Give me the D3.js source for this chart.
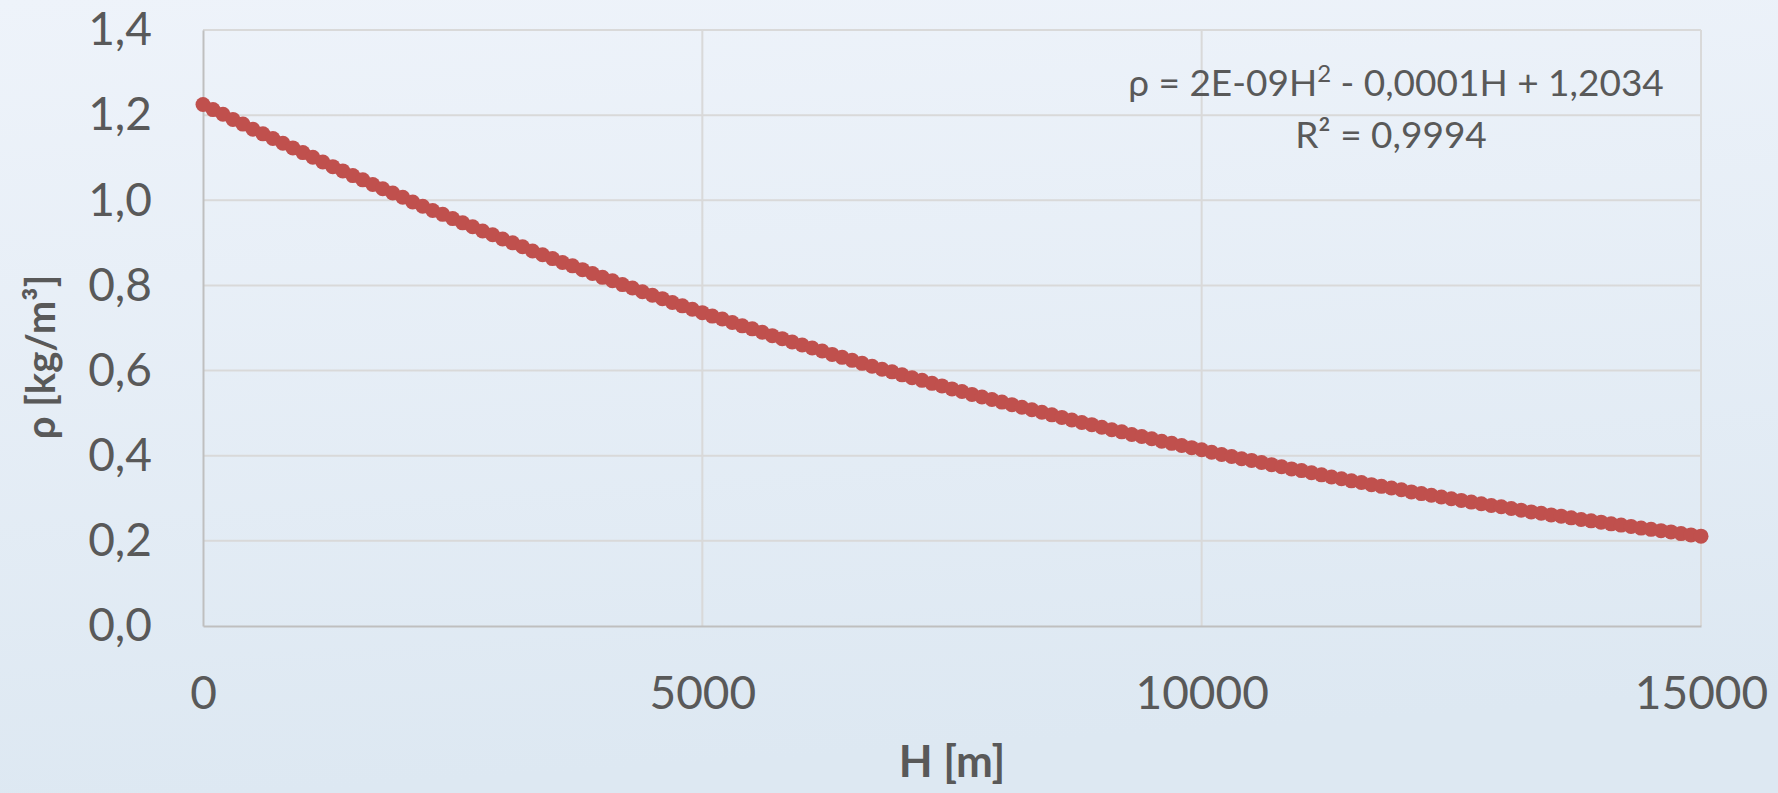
<!DOCTYPE html>
<html>
<head>
<meta charset="utf-8">
<script src="https://cdn.jsdelivr.net/npm/d3@7"></script>
<style>
  html, body { margin: 0; padding: 0; background: #e6eef7; }
  svg { display: block; }
</style>
</head>
<body>
<svg id="chart" width="1778" height="793"></svg>
<script>
// ---- data ----
const heights = [
  0,100,200,300,400,500,600,700,800,900,
  1000,1100,1200,1300,1400,1500,1600,1700,1800,1900,
  2000,2100,2200,2300,2400,2500,2600,2700,2800,2900,
  3000,3100,3200,3300,3400,3500,3600,3700,3800,3900,
  4000,4100,4200,4300,4400,4500,4600,4700,4800,4900,
  5000,5100,5200,5300,5400,5500,5600,5700,5800,5900,
  6000,6100,6200,6300,6400,6500,6600,6700,6800,6900,
  7000,7100,7200,7300,7400,7500,7600,7700,7800,7900,
  8000,8100,8200,8300,8400,8500,8600,8700,8800,8900,
  9000,9100,9200,9300,9400,9500,9600,9700,9800,9900,
  10000,10100,10200,10300,10400,10500,10600,10700,10800,10900,
  11000,11100,11200,11300,11400,11500,11600,11700,11800,11900,
  12000,12100,12200,12300,12400,12500,12600,12700,12800,12900,
  13000,13100,13200,13300,13400,13500,13600,13700,13800,13900,
  14000,14100,14200,14300,14400,14500,14600,14700,14800,14900,
  15000
];
const density = [
  1.225,1.213,1.202,1.190,1.179,1.167,1.156,1.145,1.134,1.123,
  1.112,1.101,1.090,1.079,1.069,1.058,1.048,1.037,1.027,1.017,
  1.007,0.996,0.986,0.976,0.967,0.957,0.947,0.938,0.928,0.919,
  0.909,0.900,0.891,0.881,0.872,0.863,0.854,0.846,0.837,0.828,
  0.819,0.811,0.802,0.794,0.785,0.777,0.769,0.760,0.752,0.744,
  0.736,0.728,0.721,0.713,0.705,0.698,0.690,0.682,0.675,0.667,
  0.660,0.653,0.646,0.638,0.631,0.624,0.617,0.610,0.603,0.597,
  0.590,0.583,0.577,0.570,0.564,0.557,0.551,0.544,0.538,0.532,
  0.526,0.520,0.514,0.508,0.502,0.496,0.490,0.484,0.478,0.473,
  0.467,0.461,0.456,0.450,0.445,0.440,0.434,0.429,0.424,0.419,
  0.414,0.408,0.403,0.398,0.393,0.389,0.384,0.379,0.374,0.369,
  0.365,0.360,0.355,0.350,0.346,0.341,0.337,0.332,0.328,0.324,
  0.320,0.315,0.311,0.307,0.303,0.299,0.295,0.291,0.287,0.283,
  0.280,0.276,0.272,0.268,0.265,0.261,0.258,0.254,0.250,0.247,
  0.244,0.240,0.237,0.234,0.230,0.227,0.224,0.221,0.217,0.214,
  0.211
];
const xTicks = [0, 5000, 10000, 15000];
const yTicks = [0, 0.2, 0.4, 0.6, 0.8, 1.0, 1.2, 1.4];
const xTitle = "H [m]";
const yTitle = "ρ [kg/m³]";
const eqLine1 = ["ρ = 2E-09H", "2", " - 0,0001H + 1,2034"];
const eqLine2 = "R² = 0,9994";

// ---- layout ----
const W = 1778, H = 793;
const margin = { left: 203, right: 77, top: 30, bottom: 167 };
const innerW = W - margin.left - margin.right;
const innerH = H - margin.top - margin.bottom;

const svg = d3.select("#chart");
const defs = svg.append("defs");
const grad = defs.append("linearGradient").attr("id", "bg")
  .attr("x1", "0").attr("y1", "0").attr("x2", "0.15").attr("y2", "1");
grad.append("stop").attr("offset", "0%").attr("stop-color", "#eef3fa");
grad.append("stop").attr("offset", "100%").attr("stop-color", "#dde8f2");
svg.append("rect").attr("width", W).attr("height", H).attr("fill", "url(#bg)");

const x = d3.scaleLinear().domain([0, 15000]).range([margin.left, margin.left + innerW]);
const y = d3.scaleLinear().domain([0, 1.4]).range([margin.top + innerH, margin.top]);

const locale = d3.formatLocale({ decimal: ",", thousands: "", grouping: [3], currency: ["", ""] });
const fmtY = locale.format(".1f");
const fmtX = locale.format("d");

const font = "Lato, 'Open Sans', sans-serif";
const textColor = "#595959";

// grid
const grid = svg.append("g");
grid.selectAll("line.h").data(yTicks.filter(d => d > 0)).join("line")
  .attr("x1", margin.left).attr("x2", margin.left + innerW)
  .attr("y1", d => y(d)).attr("y2", d => y(d))
  .attr("stroke", "#d9d9d9").attr("stroke-width", 2);
grid.selectAll("line.v").data(xTicks.filter(d => d > 0)).join("line")
  .attr("y1", margin.top).attr("y2", margin.top + innerH)
  .attr("x1", d => x(d)).attr("x2", d => x(d))
  .attr("stroke", "#d9d9d9").attr("stroke-width", 2);

// axes
const yAxis = d3.axisLeft(y).tickValues(yTicks).tickFormat(fmtY).tickSize(0).tickPadding(51);
const gy = svg.append("g").attr("transform", `translate(${margin.left},0)`).call(yAxis);
gy.select(".domain").attr("stroke", "#bfbfbf").attr("stroke-width", 2);
gy.selectAll("text").attr("font-family", font).attr("font-size", 46).attr("fill", textColor);

const xAxis = d3.axisBottom(x).tickValues(xTicks).tickFormat(fmtX).tickSize(0).tickPadding(50);
const gx = svg.append("g").attr("transform", `translate(0,${margin.top + innerH})`).call(xAxis);
gx.select(".domain").attr("stroke", "#bfbfbf").attr("stroke-width", 2);
gx.selectAll("text").attr("font-family", font).attr("font-size", 46).attr("fill", textColor);

// points
const pts = heights.map((h, i) => ({ h, r: density[i] }));
svg.append("g").selectAll("circle").data(pts).join("circle")
  .attr("cx", d => x(d.h)).attr("cy", d => y(d.r)).attr("r", 7.5)
  .attr("fill", "#c0504d");

// axis titles
svg.append("text").attr("x", margin.left + innerW / 2).attr("y", 777)
  .attr("text-anchor", "middle").attr("font-family", font).attr("font-weight", "bold")
  .attr("font-size", 44).attr("fill", textColor).text(xTitle);
svg.append("text").attr("transform", `translate(55,357) rotate(-90)`)
  .attr("text-anchor", "middle").attr("font-family", font).attr("font-weight", "bold")
  .attr("font-size", 40).attr("fill", textColor).text(yTitle);

// trendline equation
const eq = svg.append("text").attr("x", 1396).attr("y", 96).attr("text-anchor", "middle")
  .attr("font-family", font).attr("font-size", 37).attr("fill", textColor);
eq.append("tspan").text(eqLine1[0]);
eq.append("tspan").attr("font-size", 24).attr("dy", -14).text(eqLine1[1]);
eq.append("tspan").attr("dy", 14).text(eqLine1[2]);
svg.append("text").attr("x", 1391).attr("y", 148).attr("text-anchor", "middle")
  .attr("font-family", font).attr("font-size", 37).attr("fill", textColor).text(eqLine2);
</script>
</body>
</html>
